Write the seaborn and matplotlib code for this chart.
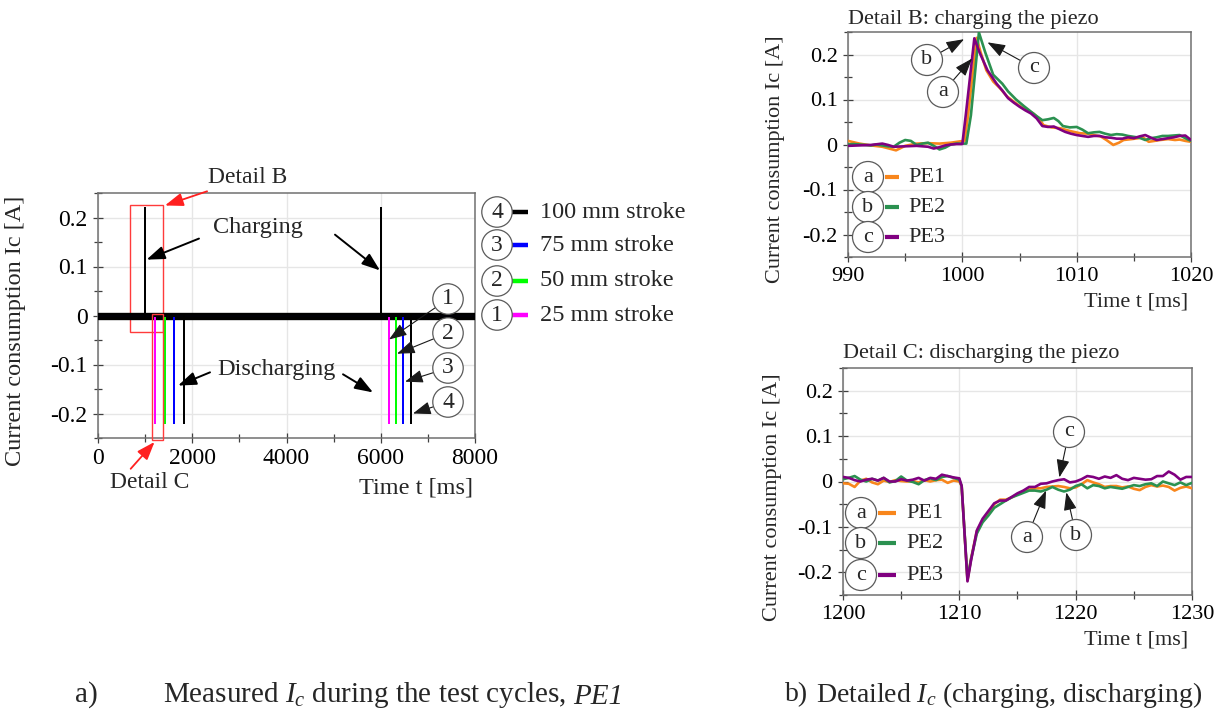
import numpy as np
import pandas as pd
import matplotlib
matplotlib.use("Agg")
import matplotlib.pyplot as plt
import seaborn as sns
from matplotlib.patches import Rectangle
from matplotlib.lines import Line2D
from matplotlib.text import Annotation
from matplotlib.ticker import MultipleLocator, FuncFormatter

# ---------------- full test cycle, PE1 ----------------
strokes = ["25 mm stroke", "50 mm stroke", "75 mm stroke", "100 mm stroke"]
stroke_ids = ["1", "2", "3", "4"]
stroke_colors = ["#ff00ff", "#00ff00", "#0000ff", "#000000"]
charge_times = [1000, 6000]
discharge_times_1 = [1216, 1415, 1613, 1832]
discharge_times_2 = [6167, 6316, 6479, 6649]
peak_charge = 0.22
peak_discharge = -0.22
cycle_end = 8000

# ---------------- Detail B: charging ----------------
tB_pe1 = [990, 991, 992, 993, 994.2, 995, 996, 997, 998, 999, 999.8, 1000.2, 1000.5, 1001.25,
          1001.6, 1002.1, 1002.7, 1003.3, 1003.9, 1004.5, 1005.1, 1005.7, 1006.2, 1006.7, 1007.1,
          1007.8, 1008.6, 1009.4, 1010.3, 1011.0, 1011.5, 1012.1, 1012.6, 1013.2, 1013.7, 1014.1,
          1014.8, 1015.4, 1015.8, 1016.3, 1016.8, 1017.3, 1018.0, 1018.6, 1019.0, 1019.5, 1020.0]
iB_pe1 = [0.008, 0.002, -0.002, -0.005, -0.013, -0.003, 0.002, 0.003, 0.002, 0.004, 0.007, 0.008,
          0.065, 0.237, 0.205, 0.165, 0.140, 0.125, 0.107, 0.095, 0.084, 0.076, 0.069, 0.058, 0.043,
          0.038, 0.036, 0.030, 0.025, 0.024, 0.021, 0.018, 0.010, -0.001, 0.004, 0.010, 0.012, 0.014,
          0.016, 0.006, 0.008, 0.010, 0.012, 0.010, 0.011, 0.008, 0.006]

tB_pe2 = [990, 990.5, 991, 991.5, 992, 992.5, 993, 993.5, 994, 994.5, 995, 995.5, 996, 996.5, 997,
          997.5, 998, 998.5, 999, 999.5, 1000, 1000.35, 1000.75, 1001.45, 1002, 1002.7, 1003.5, 1004,
          1004.7, 1005.4, 1006, 1006.5, 1007, 1007.5, 1008, 1008.4, 1008.8, 1009.4, 1010, 1010.5, 1011,
          1011.5, 1012, 1012.5, 1013, 1013.5, 1014, 1014.5, 1015, 1015.5, 1016, 1016.5, 1017, 1017.5,
          1018, 1018.5, 1019, 1019.5, 1020]
iB_pe2 = [0.000, 0.001, 0.000, -0.001, -0.002, 0.000, -0.002, -0.004, -0.005, 0.004, 0.010, 0.008,
          -0.001, 0.002, 0.004, -0.003, -0.011, -0.007, 0.000, 0.002, 0.002, 0.002, 0.065, 0.249,
          0.205, 0.155, 0.135, 0.118, 0.100, 0.085, 0.073, 0.063, 0.054, 0.056, 0.059, 0.052, 0.041,
          0.038, 0.039, 0.033, 0.025, 0.027, 0.028, 0.024, 0.021, 0.023, 0.022, 0.019, 0.017, 0.015,
          0.010, 0.014, 0.016, 0.019, 0.019, 0.020, 0.021, 0.014, 0.008]

tB_pe3 = [990, 991, 992, 993, 993.5, 994, 995, 996, 996.5, 997, 997.5, 998, 998.5, 999, 999.5,
          1000.0, 1000.3, 1001.05, 1001.5, 1002.2, 1003, 1003.5, 1004, 1004.5, 1005, 1005.5, 1006,
          1006.5, 1007, 1007.5, 1008, 1008.5, 1009, 1009.5, 1010, 1010.5, 1011, 1011.5, 1012, 1012.5,
          1013, 1013.5, 1014, 1014.5, 1015, 1015.5, 1016, 1016.5, 1017, 1017.5, 1018, 1018.5, 1019,
          1019.5, 1020]
iB_pe3 = [-0.003, -0.002, -0.001, 0.002, -0.001, -0.005, -0.004, -0.003, -0.004, -0.005, -0.009,
          -0.006, -0.002, 0.000, 0.001, 0.001, 0.065, 0.236, 0.205, 0.165, 0.135, 0.120, 0.103, 0.093,
          0.084, 0.076, 0.069, 0.058, 0.041, 0.039, 0.040, 0.034, 0.028, 0.024, 0.021, 0.019, 0.017,
          0.019, 0.019, 0.016, 0.015, 0.013, 0.013, 0.016, 0.014, 0.018, 0.021, 0.015, 0.010, 0.012,
          0.014, 0.016, 0.019, 0.020, 0.010]

# ---------------- Detail C: discharging ----------------
tC = [1200, 1200.5, 1201, 1201.5, 1202, 1202.5, 1203, 1203.5, 1204, 1204.5, 1205, 1205.5, 1206,
      1206.5, 1207, 1207.5, 1208, 1208.5, 1209, 1209.5, 1210, 1210.2, 1210.7, 1211, 1211.5, 1212,
      1212.5, 1213, 1213.5, 1214, 1214.5, 1215, 1215.5, 1216, 1216.5, 1217, 1217.5, 1218, 1218.5,
      1219, 1219.5, 1220, 1220.5, 1221, 1221.5, 1222, 1222.5, 1223, 1223.5, 1224, 1224.5, 1225,
      1225.5, 1226, 1226.5, 1227, 1227.5, 1228, 1228.5, 1229, 1229.5, 1230]
iC_pe1 = [-0.004, -0.005, -0.012, 0.002, 0.006, -0.002, -0.006, 0.002, -0.001, 0.003, 0.001, 0.000,
          0.001, -0.002, 0.003, 0.000, 0.003, 0.004, -0.003, 0.002, 0.000, -0.010, -0.218, -0.170,
          -0.110, -0.085, -0.070, -0.050, -0.040, -0.040, -0.035, -0.028, -0.022, -0.018, -0.015,
          -0.015, -0.012, -0.011, -0.010, -0.012, -0.015, -0.013, -0.006, 0.003, -0.002, -0.006,
          -0.012, -0.010, -0.010, -0.013, -0.011, -0.016, -0.019, -0.012, -0.008, -0.011, -0.009,
          -0.012, -0.020, -0.014, -0.011, -0.015]
iC_pe2 = [0.005, 0.008, 0.012, 0.004, 0.000, 0.006, 0.002, 0.008, -0.002, 0.001, 0.011, 0.002,
          -0.001, -0.006, 0.003, 0.007, 0.003, 0.010, 0.012, 0.008, 0.004, -0.010, -0.215, -0.172,
          -0.115, -0.090, -0.075, -0.058, -0.050, -0.042, -0.035, -0.030, -0.025, -0.020, -0.020,
          -0.022, -0.018, -0.012, -0.018, -0.022, -0.018, -0.010, -0.006, -0.015, -0.008, -0.010,
          -0.015, -0.012, -0.014, -0.016, -0.012, -0.008, -0.010, -0.006, -0.004, -0.010, 0.000,
          -0.004, -0.008, -0.002, -0.008, -0.003]
iC_pe3 = [0.010, 0.008, 0.003, 0.000, 0.004, 0.006, 0.002, 0.008, 0.000, 0.000, 0.005, 0.002,
          0.004, 0.008, 0.002, 0.008, 0.006, 0.015, 0.012, 0.009, 0.007, -0.010, -0.220, -0.175,
          -0.108, -0.082, -0.065, -0.048, -0.042, -0.042, -0.034, -0.026, -0.020, -0.012, -0.012,
          -0.005, -0.004, 0.000, 0.003, 0.005, -0.002, 0.000, 0.005, 0.012, 0.010, 0.006, 0.011,
          0.008, 0.014, 0.006, 0.003, 0.008, 0.006, 0.004, 0.005, 0.012, 0.012, 0.022, 0.015, 0.004,
          0.010, 0.010]

pe_names = ["PE1", "PE2", "PE3"]
pe_marks = ["a", "b", "c"]
pe_colors = ["#f8861c", "#2b9150", "#800080"]

# ---------------- styling ----------------
W, H = 1219, 715
sns.set_theme(style="whitegrid")
plt.rcParams["font.family"] = ["Liberation Serif", "DejaVu Serif"]
plt.rcParams["mathtext.fontset"] = "custom"
plt.rcParams["mathtext.rm"] = "Liberation Serif"
plt.rcParams["mathtext.it"] = "Liberation Serif:italic"
plt.rcParams["axes.unicode_minus"] = False

fig = plt.figure(figsize=(W / 100, H / 100), dpi=100)
fig.patch.set_facecolor("white")


def P(px, py):
    """pixel position -> figure fraction"""
    return (px / W, 1 - py / H)


def add_axes_px(x0, y0, x1, y1):
    return fig.add_axes([x0 / W, 1 - y1 / H, (x1 - x0) / W, (y1 - y0) / H])


fmt = FuncFormatter(lambda v, p: "0" if abs(v) < 1e-9 else f"{v:g}")


def style_axes(ax, xmaj, xmin, tick_fs):
    ax.set_facecolor("white")
    ax.set_ylim(-0.25, 0.25)
    ax.yaxis.set_major_locator(MultipleLocator(0.1))
    ax.yaxis.set_minor_locator(MultipleLocator(0.05))
    ax.xaxis.set_major_locator(MultipleLocator(xmaj))
    ax.xaxis.set_minor_locator(MultipleLocator(xmin))
    ax.yaxis.set_major_formatter(fmt)
    ax.grid(True, which="major", color="#e6e6e6", lw=1.0)
    ax.grid(False, which="minor")
    for s in ax.spines.values():
        s.set_visible(True)
        s.set_color("#707070")
        s.set_linewidth(1.1)
    ax.tick_params(which="both", direction="inout", color="#404040", width=0.9,
                   labelsize=tick_fs, labelcolor="black", bottom=True, left=True)
    ax.tick_params(which="major", length=7, pad=4)
    ax.tick_params(which="minor", length=6)


def circled(ax, label, tip, center, fs, pad):
    ax.annotate(label, xy=tip, xycoords="data", xytext=P(*center),
                textcoords="figure fraction", ha="center", va="center", fontsize=fs,
                annotation_clip=False, zorder=6,
                bbox=dict(boxstyle=f"circle,pad={pad}", fc="white", ec="#5a5a5a", lw=0.9),
                arrowprops=dict(arrowstyle="-|>,head_length=0.55,head_width=0.2",
                                mutation_scale=20, color="#1a1a1a", lw=0.8,
                                shrinkA=0, shrinkB=0))


def arrow(ax, start, tip, color="black", lw=1.4, hl=0.55, hw=0.2):
    ax.annotate("", xy=tip, xytext=start, xycoords="data", textcoords="data",
                annotation_clip=False, zorder=6,
                arrowprops=dict(arrowstyle=f"-|>,head_length={hl},head_width={hw}",
                                mutation_scale=20, color=color, lw=lw,
                                shrinkA=0, shrinkB=0))


# ================= a) full cycle =================
axL = add_axes_px(98, 193, 475, 438)
style_axes(axL, 2000, 1000, 17)
axL.set_xlim(0, cycle_end)

rows = []
for name, d1, d2 in zip(strokes, discharge_times_1, discharge_times_2):
    c1, c2 = charge_times
    ts = [0, c1, c1, c1, d1, d1, d1, c2, c2, c2, d2, d2, d2, cycle_end]
    vs = [0, 0, peak_charge, 0, 0, peak_discharge, 0, 0, peak_charge, 0, 0, peak_discharge, 0, 0]
    rows += [dict(t=t, I=v, stroke=name) for t, v in zip(ts, vs)]
df_cycle = pd.DataFrame(rows)

# measurement noise around zero shows as a thick band at this time scale
sns.lineplot(x=[0, cycle_end], y=[0, 0], color="black", lw=5.3, ax=axL, zorder=3)
sns.lineplot(data=df_cycle, x="t", y="I", hue="stroke", hue_order=strokes,
             palette=dict(zip(strokes, stroke_colors)), estimator=None, sort=False,
             lw=1.4, legend=False, ax=axL, zorder=4)

axL.set_xlabel("Time t [ms]", fontsize=17.5, ha="right", va="center")
axL.xaxis.set_label_coords(0.995, -0.204)
axL.set_ylabel("Current consumption Ic [A]", fontsize=17.5, va="center")
axL.yaxis.set_label_coords(-0.218, 0.437)

# detail frames
axL.add_patch(Rectangle((679, -0.0327), 700, 0.2572, fill=False, ec="#ff3b3b", lw=1.0,
                        zorder=2))
axL.add_patch(Rectangle((1139, -0.255), 247, 0.2585, fill=False, ec="#ff3b3b", lw=1.0,
                        zorder=5, clip_on=False))
axL.annotate("Detail B", xy=(1420, 0.2245), xytext=(3183, 0.2816), fontsize=17,
             ha="center", va="center", annotation_clip=False,
             arrowprops=dict(arrowstyle="-|>,head_length=0.55,head_width=0.2",
                             mutation_scale=20, color="#ff2020", lw=1.3, shrinkA=0,
                             shrinkB=0))
axL.annotate("Detail C", xy=(1200, -0.258), xytext=(1103, -0.341), fontsize=17,
             ha="center", va="center", annotation_clip=False,
             arrowprops=dict(arrowstyle="-|>,head_length=0.55,head_width=0.2",
                             mutation_scale=20, color="#ff2020", lw=1.3, shrinkA=0,
                             shrinkB=0, relpos=(0.22, 1.0)))

axL.text(3395, 0.18, "Charging", fontsize=17.5, ha="center", va="center")
arrow(axL, (2143, 0.157), (1030, 0.114))
arrow(axL, (5029, 0.165), (5984, 0.092))
axL.text(3777, -0.11, "Discharging", fontsize=17.5, ha="center", va="center")
arrow(axL, (2377, -0.116), (1698, -0.143))
arrow(axL, (5199, -0.12), (5836, -0.157))

circle_y = [299, 333, 368, 402]
circle_tips = [(6175, -0.049), (6345, -0.078), (6515, -0.135), (6684, -0.2)]
for sid, cy, tip in zip(stroke_ids, circle_y, circle_tips):
    circled(axL, sid, tip, (448, cy), 17, 0.2)

# stroke legend (top entry = longest stroke)
leg_y = [315, 281, 245, 212]
for sid, name, col, ly in zip(stroke_ids, strokes, stroke_colors, leg_y):
    fig.text(*P(497, ly), sid, fontsize=17, ha="center", va="center",
             bbox=dict(boxstyle="circle,pad=0.2", fc="white", ec="#5a5a5a", lw=0.9))
    fig.add_artist(Line2D([512 / W, 528 / W], [1 - ly / H] * 2, color=col, lw=3.2,
                          solid_capstyle="butt"))
    fig.text(*P(540, ly), name, fontsize=17.5, ha="left", va="center")


# ================= b) details =================
def detail_panel(box, ts_list, is_list, xlim, xmaj, title, title_pad, ylab_pos, xlab_pos,
                 leg_px, line_px, txt_px, leg_ys):
    ax = add_axes_px(*box)
    style_axes(ax, xmaj, xmaj / 2, 16)
    ax.set_xlim(*xlim)
    rows = []
    for name, ts, vs in zip(pe_names, ts_list, is_list):
        rows += [dict(t=t, I=v, series=name) for t, v in zip(ts, vs)]
    d = pd.DataFrame(rows)
    sns.lineplot(data=d, x="t", y="I", hue="series", hue_order=pe_names,
                 palette=dict(zip(pe_names, pe_colors)), estimator=None, sort=False,
                 lw=1.9, legend=False, ax=ax, zorder=4)
    ax.set_title(title, loc="left", fontsize=16, pad=title_pad)
    ax.title.set_x(0.012)
    ax.set_xlabel("Time t [ms]", fontsize=16, ha="right", va="center")
    ax.xaxis.set_label_coords(*xlab_pos)
    ax.set_ylabel("Current consumption Ic [A]", fontsize=16, va="center")
    ax.yaxis.set_label_coords(*ylab_pos)
    for mark, name, col, ly in zip(pe_marks, pe_names, pe_colors, leg_ys):
        fig.text(*P(leg_px, ly), mark, fontsize=16, ha="center", va="center", zorder=6,
                 bbox=dict(boxstyle="circle,pad=0.27", fc="white", ec="#5a5a5a", lw=0.9))
        fig.add_artist(Line2D([line_px[0] / W, line_px[1] / W], [1 - ly / H] * 2, color=col,
                              lw=3.0, solid_capstyle="butt"))
        fig.text(*P(txt_px, ly), name, fontsize=16, ha="left", va="center")
    return ax


axB = detail_panel((848, 32, 1191, 257), [tB_pe1, tB_pe2, tB_pe3], [iB_pe1, iB_pe2, iB_pe3],
                   (990, 1020), 10, "Detail B: charging the piezo", 6,
                   (-0.21, 0.436), (0.991, -0.2), 868, (885, 899), 908, [177, 207, 237])
circled(axB, "b", (1000.15, 0.234), (927, 60), 16, 0.27)
circled(axB, "a", (1000.85, 0.191), (943, 92), 16, 0.27)
circled(axB, "c", (1002.2, 0.227), (1034, 68), 16, 0.27)

axC = detail_panel((843, 368, 1192, 595), [tC, tC, tC], [iC_pe1, iC_pe2, iC_pe3],
                   (1200, 1230), 10, "Detail C: discharging the piezo", 7,
                   (-0.203, 0.432), (0.989, -0.198), 861, (878, 896), 906, [513, 543, 575])
circled(axC, "c", (1218.6, 0.009), (1069, 432), 16, 0.27)
circled(axC, "a", (1217.45, -0.02), (1027, 537), 16, 0.27)
circled(axC, "b", (1219.2, -0.024), (1076, 535), 16, 0.27)

# ================= captions =================
cap_fs = 21
fig.text(*P(75, 695), "a)", fontsize=cap_fs, ha="left", va="center")
cap_a = fig.text(*P(163, 695), r"Measured $I_c$ during the test cycles,", fontsize=cap_fs,
                 ha="left", va="center")
# italic specimen name continues the caption line
fig.add_artist(Annotation("PE1", xy=(1.0, 0.0), xycoords=cap_a, xytext=(5, 0),
                          textcoords="offset points", fontsize=cap_fs, style="italic",
                          ha="left", va="bottom"))
fig.text(*P(785, 695), "b)", fontsize=20, ha="left", va="center")
fig.text(*P(816, 695), r"Detailed $I_c$ (charging, discharging)", fontsize=20,
         ha="left", va="center")

fig.savefig("out.png", dpi=100, facecolor="white")
